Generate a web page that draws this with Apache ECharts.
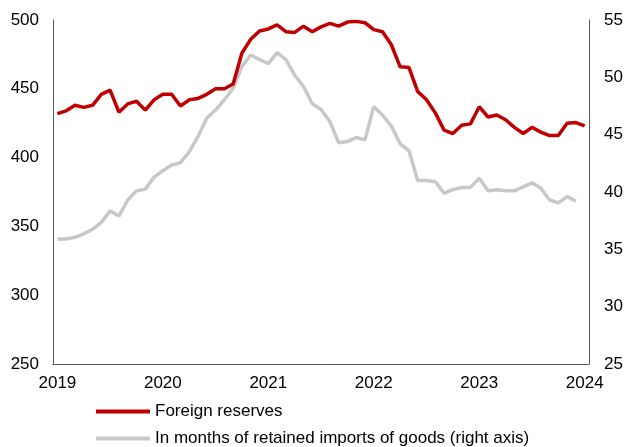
<!DOCTYPE html>
<html>
<head>
<meta charset="utf-8">
<script src="https://cdn.jsdelivr.net/npm/echarts@6/dist/echarts.min.js"></script>
<style>
  html, body { margin: 0; padding: 0; background: #fff; }
  #chart { width: 626px; height: 447px; }
</style>
</head>
<body>
<div id="chart"></div>
<script>
// monthly, Jan 2019 .. Jan 2024
var months = [];
for (var y = 2019; y <= 2024; y++) {
    for (var m = 1; m <= 12; m++) {
        if (y == 2024 && m > 1) break;
        months.push(y + '-' + (m < 10 ? '0' + m : m));
    }
}

var xTickLabels = ['2019', '2020', '2021', '2022', '2023', '2024'];

// Foreign reserves, left axis
var reserves = [
    432, 434, 438, 436.5, 438, 446, 449, 433, 439, 441, 434.5, 442,
    446, 446, 437.5, 442, 443, 446, 450, 450, 453.5, 476, 486, 492,
    493.5, 496.5, 491.5, 491, 495.5, 491.5, 495, 497.5, 495.5, 498.5, 499, 498,
    493, 491.5, 482, 466, 465.5, 448, 442, 432.5, 420, 417.5, 423.5, 424.5,
    437, 429.5, 431, 427.5, 422, 417.5, 422, 418.5, 416, 416, 425, 425.5,
    423
];

// In months of retained imports of goods, right axis
var monthsImports = [
    35.9, 35.9, 36.05, 36.35, 36.75, 37.35, 38.35, 37.9, 39.3, 40.1, 40.25, 41.3,
    41.85, 42.35, 42.55, 43.5, 44.85, 46.45, 47.15, 48.05, 49.05, 50.95, 51.95, 51.55,
    51.2, 52.15, 51.55, 50.2, 49.2, 47.7, 47.2, 46.15, 44.3, 44.4, 44.75, 44.55,
    47.45, 46.7, 45.75, 44.2, 43.6, 41.0, 41.0, 40.9, 39.9, 40.2, 40.4, 40.4,
    41.2, 40.1, 40.2, 40.1, 40.1, 40.45, 40.8, 40.35, 39.3, 39.05, 39.6, 39.2
];

var nameReserves = 'Foreign reserves';
var nameImports = 'In months of retained imports of goods (right axis)';

var font = '"Liberation Sans", Arial, sans-serif';
var axisColor = '#595959';

var myChart = echarts.init(document.getElementById('chart'));

function legendRow(name, top) {
    return {
        left: 96,
        top: top,
        itemWidth: 54,
        itemHeight: 4,
        icon: 'rect',
        padding: 0,
        textStyle: { fontFamily: font, fontSize: 17, color: '#000' },
        data: [name]
    };
}

var option = {
    animation: false,
    backgroundColor: '#fff',
    textStyle: { fontFamily: font },
    grid: { left: 53, right: 35, top: 20, bottom: 83 },
    legend: [
        legendRow(nameReserves, 403),
        legendRow(nameImports, 430)
    ],
    xAxis: {
        type: 'category',
        data: months,
        boundaryGap: true,
        axisLine: { show: true, lineStyle: { color: axisColor, width: 1 } },
        axisTick: { show: false },
        splitLine: { show: false },
        axisLabel: {
            interval: 11,
            margin: 11,
            fontFamily: font,
            fontSize: 17,
            color: '#000',
            formatter: function (v) {
                var yr = v.slice(0, 4);
                return xTickLabels.indexOf(yr) >= 0 && v.slice(5) == '01' ? yr : '';
            }
        }
    },
    yAxis: [
        {
            type: 'value',
            min: 250,
            max: 500,
            interval: 50,
            axisLine: { show: true, lineStyle: { color: axisColor, width: 1 } },
            axisTick: { show: false },
            splitLine: { show: false },
            axisLabel: { margin: 14, fontFamily: font, fontSize: 17, color: '#000' }
        },
        {
            type: 'value',
            min: 25,
            max: 55,
            interval: 5,
            position: 'right',
            axisLine: { show: true, lineStyle: { color: axisColor, width: 1 } },
            axisTick: { show: false },
            splitLine: { show: false },
            axisLabel: { margin: 15, fontFamily: font, fontSize: 17, color: '#000' }
        }
    ],
    series: [
        {
            name: nameImports,
            type: 'line',
            yAxisIndex: 1,
            data: monthsImports,
            showSymbol: false,
            symbol: 'none',
            color: '#C8C8C8',
            lineStyle: { color: '#C8C8C8', width: 3.5 },
            z: 2
        },
        {
            name: nameReserves,
            type: 'line',
            yAxisIndex: 0,
            data: reserves,
            showSymbol: false,
            symbol: 'none',
            color: '#C00000',
            lineStyle: { color: '#C00000', width: 3.5 },
            z: 3
        }
    ]
};

myChart.setOption(option);
</script>
</body>
</html>
